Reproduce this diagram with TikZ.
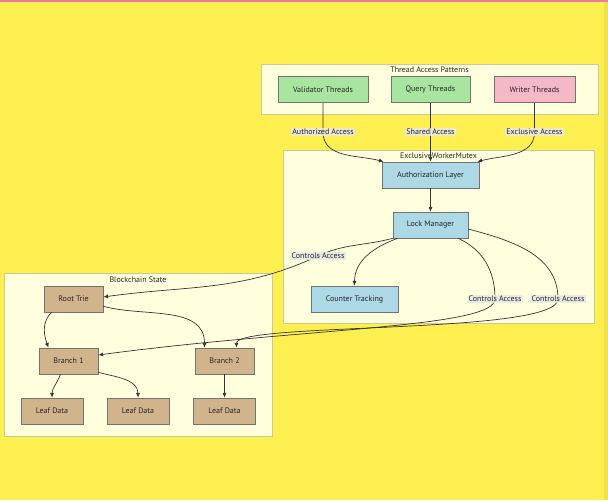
\documentclass[tikz,border=0pt]{standalone}
\usepackage{fontspec}
\setmainfont{PT Sans}
\usetikzlibrary{arrows.meta}

\definecolor{bgyellow}{HTML}{FDEF50}
\definecolor{edgestrip}{HTML}{EFE14C}
\definecolor{topline}{HTML}{E97CA0}
\definecolor{clusterfill}{HTML}{FFFFDE}
\definecolor{clusterline}{HTML}{C9C99A}
\definecolor{threadgreen}{HTML}{A8E6A0}
\definecolor{writerpink}{HTML}{F5B8C5}
\definecolor{mutexblue}{HTML}{ADD8E6}
\definecolor{statetan}{HTML}{D2B48C}
\definecolor{edgegray}{HTML}{333333}

\begin{document}
\begin{tikzpicture}[x=0.5pt,y=-0.5pt,
  txt/.style={font=\fontsize{4}{5}\selectfont, text=black!85},
  box/.style={txt, draw=black!55, line width=0.3pt, minimum height=13pt, inner sep=0pt},
  cluster/.style={fill=clusterfill, draw=clusterline, line width=0.3pt},
  flow/.style={draw=edgegray, line width=0.35pt, -{Latex[length=2.4pt,width=2pt]}},
  edgelabel/.style={txt, fill=black!9, fill opacity=0.85, text opacity=1, inner sep=0.6pt}]

  % Background
  \fill[bgyellow] (0,0) rectangle (608,500);
  \useasboundingbox (0,0) rectangle (608,500);
  \fill[edgestrip] (604,0) rectangle (608,500);
  \fill[topline] (0,0) rectangle (608,1.5);

  % Clusters
  \draw[cluster] (261,64) rectangle (598,114);
  \node[txt] (tapTitle) at (429.5,70) {Thread Access Patterns};
  \draw[cluster] (283,150) rectangle (594,323);
  \node[txt] (ewmTitle) at (438.5,156) {ExclusiveWorkerMutex};
  \draw[cluster] (4,273) rectangle (272,436);
  \node[txt] (bcsTitle) at (138,280) {Blockchain State};

  % Thread nodes
  \node[box, fill=threadgreen, minimum width=45pt] (val) at (323,89.5) {Validator Threads};
  \node[box, fill=threadgreen, minimum width=39.5pt] (qry) at (430.5,89.5) {Query Threads};
  \node[box, fill=writerpink, minimum width=40.5pt] (wrt) at (534.5,89.5) {Writer Threads};

  % Mutex nodes
  \node[box, fill=mutexblue, minimum width=48.5pt] (auth) at (430.5,175) {Authorization Layer};
  \node[box, fill=mutexblue, minimum width=37.5pt] (lock) at (430.5,225) {Lock Manager};
  \node[box, fill=mutexblue, minimum width=43.5pt] (ctr) at (354.5,299) {Counter Tracking};

  % State nodes
  \node[box, fill=statetan, minimum width=29.5pt] (root) at (73.5,299) {Root Trie};
  \node[box, fill=statetan, minimum width=29.5pt] (br1) at (68.5,361) {Branch 1};
  \node[box, fill=statetan, minimum width=29.5pt] (br2) at (224.5,361) {Branch 2};
  \node[box, fill=statetan, minimum width=31pt] (leaf1) at (52,411) {Leaf Data};
  \node[box, fill=statetan, minimum width=31pt] (leaf2) at (138,411) {Leaf Data};
  \node[box, fill=statetan, minimum width=31pt] (leaf3) at (224.5,411) {Leaf Data};

  % Label positions
  \coordinate (cAuthd) at (323,132);
  \coordinate (cShared) at (430.5,132);
  \coordinate (cExcl) at (534.5,132);
  \coordinate (cCtl1) at (318,256);
  \coordinate (cCtl2) at (495,299);
  \coordinate (cCtl3) at (558,299);

  % Edges
  \draw[flow] (val.south) -- (cAuthd) to[out=-90,in=165] ([xshift=1pt]auth.north west);
  \draw[flow] (qry.south) -- (auth.north);
  \draw[flow] (wrt.south) -- (cExcl) to[out=-90,in=15] ([xshift=-1pt]auth.north east);
  \draw[flow] (auth.south) -- (lock.north);
  \draw[flow] ([xshift=2.5pt]lock.south west) to[out=200,in=90] (ctr.north);
  \draw[flow] (lock.south west) to[out=195,in=25] (cCtl1) to[out=205,in=8] ([yshift=1pt]root.east);
  \draw[flow] ([xshift=-5pt]lock.south east) to[out=-25,in=90] (cCtl2) .. controls (495,328) and (300,328) .. ([yshift=3pt]br1.east);
  \draw[flow] ([yshift=-2pt]lock.east) to[out=-15,in=90] (cCtl3) .. controls (558,335) and (236,322) .. ([xshift=6pt]br2.north);
  \draw[flow] ([xshift=-11pt]root.south) to[out=-135,in=110] ([xshift=-10pt]br1.north);
  \draw[flow] ([yshift=3pt]root.south east) to[out=-15,in=90] ([xshift=-10pt]br2.north);
  \draw[flow] ([xshift=-4pt]br1.south) to[out=-110,in=90] (leaf1.north);
  \draw[flow] ([yshift=1pt]br1.south east) to[out=-15,in=90] (leaf2.north);
  \draw[flow] (br2.south) -- (leaf3.north);

  % Edge labels
  \node[edgelabel] (lbAuthd) at (cAuthd) {Authorized Access};
  \node[edgelabel] (lbShared) at (cShared) {Shared Access};
  \node[edgelabel] (lbExcl) at (cExcl) {Exclusive Access};
  \node[edgelabel] (lbCtl1) at (cCtl1) {Controls Access};
  \node[edgelabel] (lbCtl2) at (cCtl2) {Controls Access};
  \node[edgelabel] (lbCtl3) at (cCtl3) {Controls Access};
\end{tikzpicture}
\end{document}
